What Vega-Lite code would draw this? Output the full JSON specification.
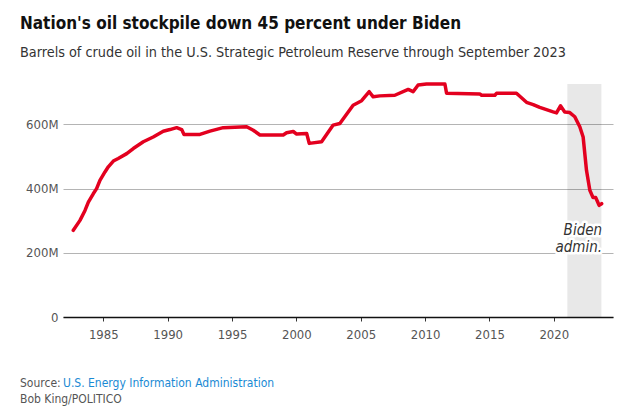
{
  "$schema": "https://vega.github.io/schema/vega-lite/v6.json",
  "width": 550,
  "height": 233,
  "autosize": {"type": "none"},
  "padding": {"left": 63, "top": 84, "right": 7, "bottom": 93},
  "background": "white",
  "config": {
    "view": {"stroke": null},
    "font": "Liberation Sans Narrow, DejaVu Sans Condensed, Roboto"
  },
  "title": {
    "text": "Nation's oil stockpile down 45 percent under Biden",
    "subtitle": "Barrels of crude oil in the U.S. Strategic Petroleum Reserve through September 2023",
    "anchor": "start",
    "frame": "group",
    "dx": -43,
    "offset": 21,
    "font": "Liberation Sans Narrow, DejaVu Sans Condensed, Roboto",
    "fontSize": 17,
    "fontWeight": "bold",
    "color": "#111111",
    "subtitleFont": "Liberation Sans Narrow, DejaVu Sans Condensed, Roboto",
    "subtitleFontSize": 14.3,
    "subtitleColor": "#333333",
    "subtitlePadding": 13
  },
  "datasets": {
    "spr": [
      {"year": 1982.67, "barrels": 270},
      {"year": 1983.19, "barrels": 301},
      {"year": 1983.58, "barrels": 332},
      {"year": 1983.84, "barrels": 358},
      {"year": 1984.22, "barrels": 384},
      {"year": 1984.48, "barrels": 400},
      {"year": 1984.74, "barrels": 426},
      {"year": 1985.13, "barrels": 452},
      {"year": 1985.39, "barrels": 468},
      {"year": 1985.78, "barrels": 486},
      {"year": 1986.16, "barrels": 494},
      {"year": 1986.82, "barrels": 509},
      {"year": 1987.33, "barrels": 525},
      {"year": 1988.11, "barrels": 546},
      {"year": 1988.88, "barrels": 561},
      {"year": 1989.66, "barrels": 579},
      {"year": 1990.18, "barrels": 584},
      {"year": 1990.7, "barrels": 590},
      {"year": 1991.09, "barrels": 584},
      {"year": 1991.27, "barrels": 569},
      {"year": 1992.51, "barrels": 569},
      {"year": 1993.29, "barrels": 579},
      {"year": 1994.32, "barrels": 590},
      {"year": 1996.14, "barrels": 593},
      {"year": 1996.65, "barrels": 582},
      {"year": 1997.17, "barrels": 567},
      {"year": 1998.98, "barrels": 567},
      {"year": 1999.24, "barrels": 574},
      {"year": 1999.76, "barrels": 578},
      {"year": 2000.02, "barrels": 570},
      {"year": 2000.8, "barrels": 572},
      {"year": 2001.0, "barrels": 541},
      {"year": 2001.96, "barrels": 546},
      {"year": 2002.86, "barrels": 598},
      {"year": 2003.38, "barrels": 603},
      {"year": 2004.41, "barrels": 660},
      {"year": 2005.07, "barrels": 674},
      {"year": 2005.66, "barrels": 702},
      {"year": 2005.97, "barrels": 686},
      {"year": 2006.49, "barrels": 689},
      {"year": 2007.65, "barrels": 691},
      {"year": 2008.69, "barrels": 709},
      {"year": 2009.07, "barrels": 702},
      {"year": 2009.46, "barrels": 723},
      {"year": 2010.11, "barrels": 726},
      {"year": 2011.54, "barrels": 726},
      {"year": 2011.67, "barrels": 697},
      {"year": 2014.25, "barrels": 695},
      {"year": 2014.39, "barrels": 691},
      {"year": 2015.42, "barrels": 691},
      {"year": 2015.55, "barrels": 697},
      {"year": 2017.1, "barrels": 697},
      {"year": 2017.88, "barrels": 669},
      {"year": 2018.4, "barrels": 662},
      {"year": 2018.91, "barrels": 653},
      {"year": 2019.95, "barrels": 639},
      {"year": 2020.21, "barrels": 636},
      {"year": 2020.52, "barrels": 658},
      {"year": 2020.85, "barrels": 639},
      {"year": 2021.24, "barrels": 637},
      {"year": 2021.63, "barrels": 624},
      {"year": 2022.02, "barrels": 593},
      {"year": 2022.28, "barrels": 561},
      {"year": 2022.54, "barrels": 457},
      {"year": 2022.8, "barrels": 395},
      {"year": 2023.05, "barrels": 372},
      {"year": 2023.26, "barrels": 372},
      {"year": 2023.52, "barrels": 348},
      {"year": 2023.72, "barrels": 353}
    ],
    "band": [{"start": 2021.05, "end": 2023.7}],
    "note": [{"x": 2023.75, "y": 257, "label": ["Biden", "admin."]}],
    "footer": [
      {"x": 1978.53, "y": -205, "label": "Source:", "kind": "plain"},
      {"x": 1981.87, "y": -205, "label": "U.S. Energy Information Administration", "kind": "link"},
      {"x": 1978.53, "y": -255, "label": "Bob King/POLITICO", "kind": "plain"}
    ]
  },
  "layer": [
    {
      "data": {"name": "band"},
      "mark": {"type": "rect", "color": "#000000", "opacity": 0.09},
      "encoding": {
        "x": {"field": "start", "type": "quantitative", "scale": {"domain": [1981.87, 2024.6], "nice": false, "zero": false}},
        "x2": {"field": "end"}
      }
    },
    {
      "data": {"name": "spr"},
      "mark": {"type": "line", "color": "#e3001f", "strokeWidth": 3.5, "strokeJoin": "round", "strokeCap": "round"},
      "encoding": {
        "x": {
          "field": "year",
          "type": "quantitative",
          "scale": {"domain": [1981.87, 2024.6], "nice": false, "zero": false},
          "axis": {
            "title": null,
            "values": [1985, 1990, 1995, 2000, 2005, 2010, 2015, 2020],
            "format": "d",
            "grid": false,
            "domainColor": "#111111",
            "domainWidth": 1.5,
            "tickColor": "#333333",
            "tickSize": 4,
            "tickWidth": 1,
            "labelColor": "#555555",
            "labelFontSize": 13,
            "labelPadding": 7
          }
        },
        "y": {
          "field": "barrels",
          "type": "quantitative",
          "scale": {"domain": [0, 726], "nice": false},
          "axis": {
            "title": null,
            "values": [0, 200, 400, 600],
            "labelExpr": "datum.value == 0 ? '0' : datum.value + 'M'",
            "domain": false,
            "ticks": false,
            "grid": true,
            "gridColor": "#b4b4b4",
            "gridWidth": 1,
            "labelColor": "#555555",
            "labelFontSize": 13,
            "labelPadding": 5
          }
        }
      }
    },
    {
      "data": {"name": "note"},
      "mark": {"type": "text", "align": "right", "baseline": "alphabetic", "fontStyle": "italic", "fontSize": 15, "lineHeight": 17, "stroke": "white", "strokeWidth": 5, "strokeJoin": "round", "fill": "white"},
      "encoding": {
        "x": {"field": "x", "type": "quantitative"},
        "y": {"field": "y", "type": "quantitative"},
        "text": {"field": "label"}
      }
    },
    {
      "data": {"name": "note"},
      "mark": {"type": "text", "align": "right", "baseline": "alphabetic", "fontStyle": "italic", "fontSize": 15, "lineHeight": 17, "color": "#333333"},
      "encoding": {
        "x": {"field": "x", "type": "quantitative"},
        "y": {"field": "y", "type": "quantitative"},
        "text": {"field": "label"}
      }
    },
    {
      "data": {"name": "footer"},
      "mark": {"type": "text", "align": "left", "baseline": "middle", "fontSize": 12, "clip": false},
      "encoding": {
        "x": {"field": "x", "type": "quantitative"},
        "y": {"field": "y", "type": "quantitative"},
        "text": {"field": "label"},
        "color": {"field": "kind", "type": "nominal", "scale": {"domain": ["plain", "link"], "range": ["#555555", "#1a8ad4"]}, "legend": null}
      }
    }
  ]
}
